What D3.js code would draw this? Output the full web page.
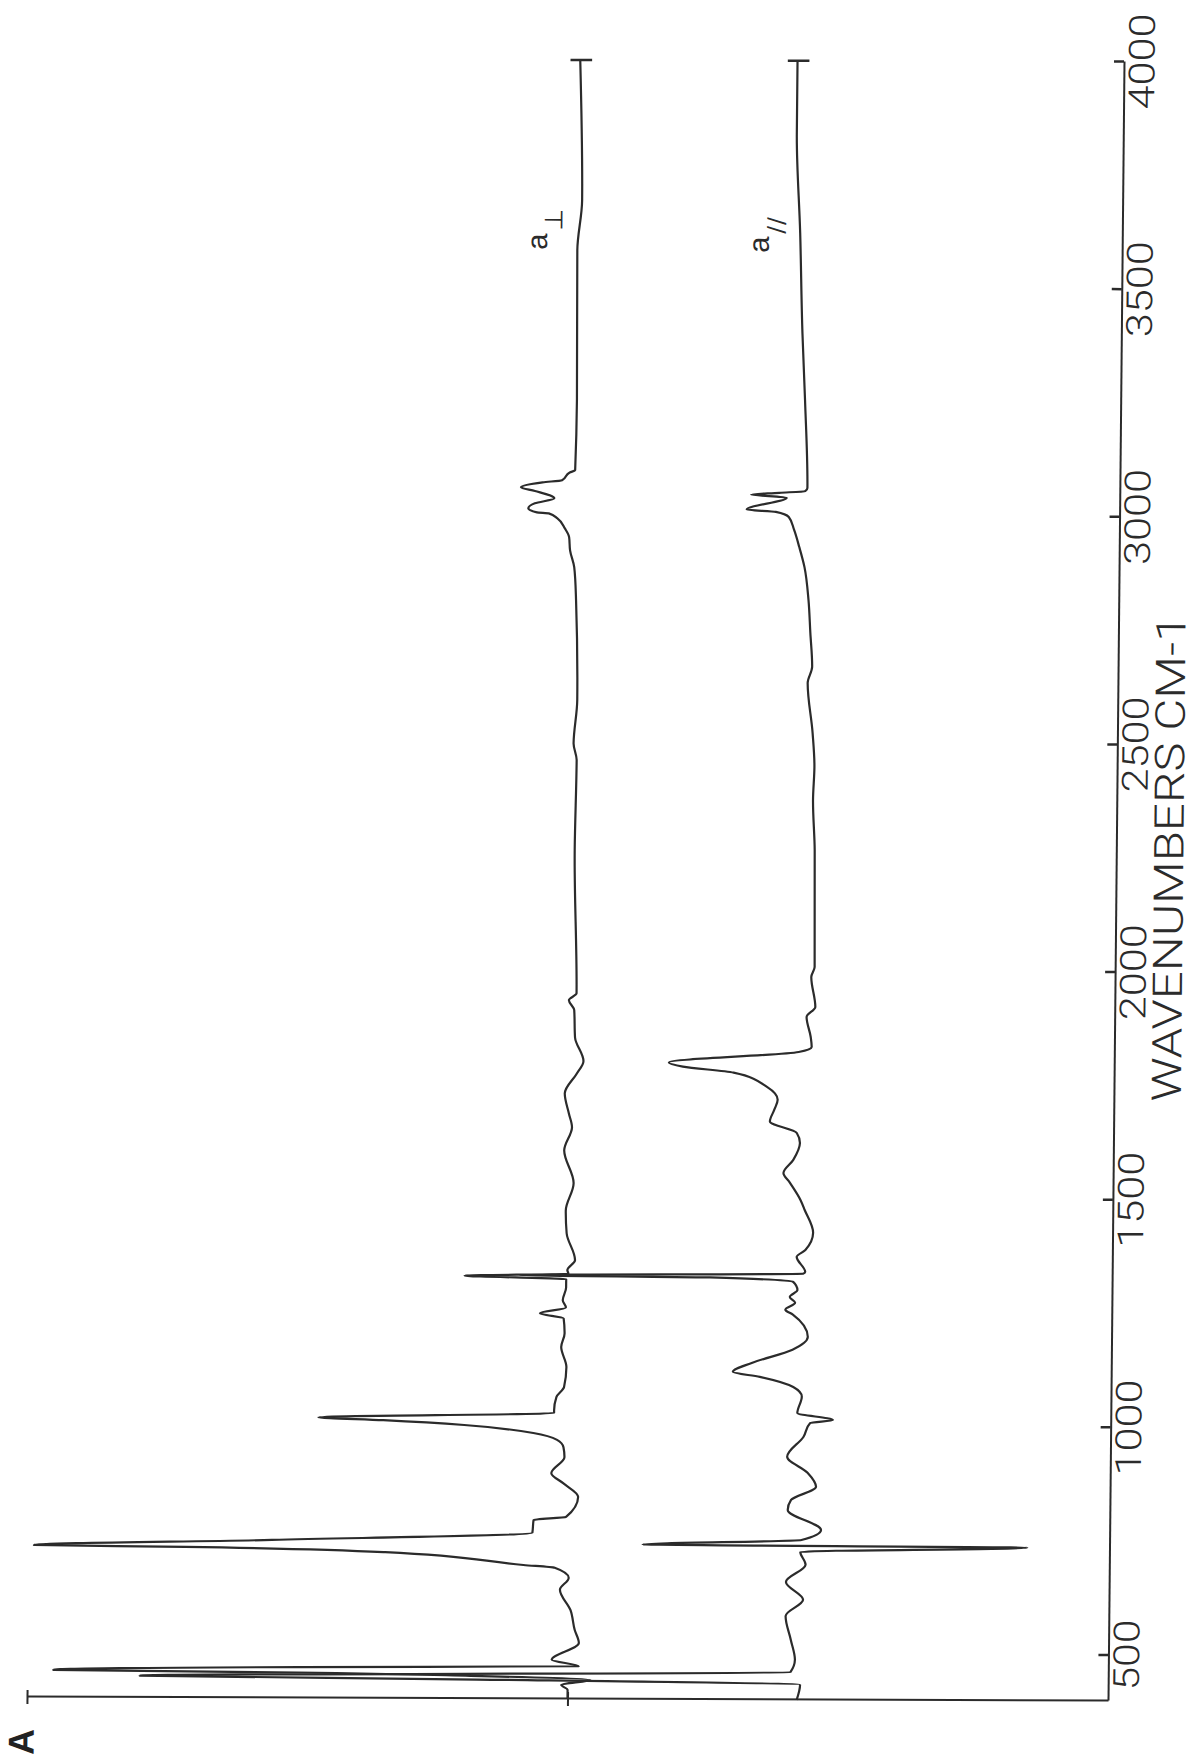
<!DOCTYPE html>
<html>
<head>
<meta charset="utf-8">
<script src="https://cdn.jsdelivr.net/npm/d3@7"></script>
<style>
  body { margin: 0; background: #fff; }
  svg { display: block; }
</style>
</head>
<body>
<script>
// tick values
var waveTicks = [500, 1000, 1500, 2000, 2500, 3000, 3500, 4000];
var absTicks = [0.5, 1.0];

// a-perpendicular spectrum, [wavenumber, absorbance]
var perpTrace = [
  [4000, 0.503], [3692, 0.500], [3582, 0.504], [3253, 0.503], [3099, 0.504],
  [3094, 0.509], [3077, 0.516], [3072, 0.534], [3061, 0.554], [3053, 0.541],
  [3037, 0.523], [3026, 0.541], [3015, 0.547], [3006, 0.539], [3004, 0.528],
  [2993, 0.520], [2971, 0.513], [2952, 0.509], [2923, 0.508], [2886, 0.504],
  [2813, 0.502], [2594, 0.500], [2499, 0.503], [2462, 0.500], [2264, 0.501],
  [1950, 0.498], [1935, 0.505], [1913, 0.500], [1853, 0.499], [1801, 0.491],
  [1774, 0.497], [1730, 0.508], [1686, 0.504], [1656, 0.501], [1605, 0.508],
  [1533, 0.499], [1473, 0.506], [1423, 0.505], [1364, 0.497], [1342, 0.504],
  [1334, 0.503], [1329, 0.599], [1322, 0.505], [1304, 0.505], [1276, 0.508],
  [1260, 0.505], [1247, 0.529], [1236, 0.507], [1203, 0.506], [1173, 0.509],
  [1129, 0.504], [1085, 0.506], [1063, 0.513], [1034, 0.515], [1028, 0.515],
  [1017, 0.733], [1011, 0.673], [1001, 0.598], [984, 0.534], [969, 0.512],
  [953, 0.506], [931, 0.505], [896, 0.517], [874, 0.506], [844, 0.492],
  [800, 0.503], [793, 0.533], [765, 0.534], [747, 0.775], [734, 0.995],
  [731, 0.855], [721, 0.670], [694, 0.542], [688, 0.513], [666, 0.500],
  [640, 0.508], [595, 0.498], [552, 0.494], [523, 0.490], [486, 0.515],
  [472, 0.490], [468, 0.748], [460, 0.976], [456, 0.750], [450, 0.590],
  [442, 0.479], [431, 0.506], [420, 0.500], [400, 0.500]
];

// a-parallel spectrum, [wavenumber, absorbance]
var paraTrace = [
  [4000, 0.302], [3842, 0.302], [3622, 0.298], [3402, 0.295], [3255, 0.292],
  [3062, 0.289], [3055, 0.291], [3051, 0.315], [3047, 0.341], [3040, 0.308],
  [3014, 0.345], [3009, 0.318], [2998, 0.306], [2970, 0.301], [2932, 0.296],
  [2888, 0.291], [2816, 0.287], [2744, 0.285], [2669, 0.283], [2634, 0.287],
  [2524, 0.282], [2449, 0.280], [2377, 0.281], [2267, 0.279], [2010, 0.278],
  [1988, 0.281], [1922, 0.277], [1900, 0.285], [1856, 0.281], [1834, 0.280],
  [1823, 0.292], [1799, 0.412], [1790, 0.399], [1777, 0.352], [1746, 0.321],
  [1718, 0.311], [1696, 0.314], [1670, 0.318], [1645, 0.293], [1623, 0.290],
  [1586, 0.296], [1557, 0.305], [1536, 0.299], [1498, 0.289], [1476, 0.285],
  [1426, 0.277], [1388, 0.284], [1373, 0.292], [1340, 0.284], [1336, 0.286],
  [1331, 0.548], [1327, 0.372], [1318, 0.295], [1300, 0.291], [1285, 0.298],
  [1272, 0.293], [1257, 0.302], [1246, 0.295], [1197, 0.281], [1169, 0.295],
  [1140, 0.332], [1120, 0.350], [1109, 0.325], [1087, 0.294], [1066, 0.286],
  [1030, 0.290], [1015, 0.257], [1008, 0.278], [978, 0.284], [934, 0.299],
  [899, 0.280], [868, 0.272], [839, 0.295], [817, 0.298], [773, 0.267],
  [751, 0.285], [740, 0.432], [736, 0.076], [725, 0.286], [697, 0.281],
  [659, 0.299], [620, 0.283], [584, 0.299], [532, 0.294], [488, 0.290],
  [461, 0.294], [448, 0.896], [442, 0.584], [433, 0.285], [400, 0.288]
];

var traces = [perpTrace, paraTrace];
var traceNames = ["a", "a"];
var traceSubs = ["\u22A5", "//"];
var labelWave = [3583, 3578];
var labelAbs = [0.532, 0.327];

var W = 1639, H = 1081;
var ink = "#2b2b2b";

var svg = d3.select("body").append("svg")
  .attr("width", 1196)
  .attr("height", 1759);

// the plot sits sideways on the scanned page, slightly skewed
var g = svg.append("g")
  .attr("transform", "matrix(0.00976,-1,1,0.0037,27,1697)");

var x = d3.scaleLinear().domain([400, 4000]).range([0, W]);
var y = d3.scaleLinear().domain([0, 1]).range([H, 0]);

// wavenumber axis
var xAxis = g.append("g")
  .attr("transform", "translate(0," + H + ")")
  .call(d3.axisBottom(x)
    .tickValues(waveTicks)
    .tickFormat(d3.format("d"))
    .tickSize(-10)
    .tickSizeOuter(0)
    .tickPadding(5));
xAxis.select(".domain").attr("stroke", ink).attr("stroke-width", 2);
xAxis.selectAll(".tick line").attr("stroke", ink).attr("stroke-width", 2.5);
xAxis.selectAll(".tick text")
  .attr("fill", ink)
  .style("font-family", "Roboto, 'DejaVu Sans', sans-serif")
  .style("font-weight", 300)
  .style("font-size", "36px")
  .attr("textLength", function(d) { return String(d).length * 25 - 4; })
  .attr("lengthAdjust", "spacingAndGlyphs");

g.append("text")
  .attr("x", x(2252))
  .attr("y", H + 67)
  .attr("text-anchor", "middle")
  .attr("fill", ink)
  .style("font-family", "Roboto, 'DejaVu Sans', sans-serif")
  .style("font-weight", 300)
  .style("font-size", "41px")
  .attr("textLength", 487)
  .attr("lengthAdjust", "spacingAndGlyphs")
  .text("WAVENUMBERS CM-1");

// absorbance axis, no labels
var yAxis = g.append("g")
  .call(d3.axisLeft(y).tickValues(absTicks).tickSize(7).tickSizeOuter(0).tickFormat(function() { return ""; }));
yAxis.select(".domain").attr("stroke", ink).attr("stroke-width", 2);
yAxis.selectAll(".tick line").attr("x2", 7).attr("x1", -7).attr("stroke", ink).attr("stroke-width", 2);

// spectra
var line = d3.line()
  .x(function(d) { return x(d[0]); })
  .y(function(d) { return y(d[1]); })
  .curve(d3.curveMonotoneX);

g.selectAll(".trace")
  .data(traces)
  .enter()
  .append("path")
    .attr("class", "trace")
    .attr("d", line)
    .attr("fill", "none")
    .attr("stroke", ink)
    .attr("stroke-width", 2.2)
    .attr("stroke-linejoin", "round");

// little end bar where each pen trace starts
g.selectAll(".cap")
  .data(traces)
  .enter()
  .append("line")
    .attr("class", "cap")
    .attr("x1", function(d) { return x(d[0][0]); })
    .attr("x2", function(d) { return x(d[0][0]); })
    .attr("y1", function(d) { return y(d[0][1] - 0.011); })
    .attr("y2", function(d) { return y(d[0][1] + 0.009); })
    .attr("stroke", ink)
    .attr("stroke-width", 2.5);

// trace names
traces.forEach(function(t, i) {
  var lab = g.append("text")
    .attr("x", x(labelWave[i]))
    .attr("y", y(labelAbs[i]))
    .attr("fill", ink)
    .style("font-family", "'Liberation Sans', Arial, sans-serif")
    .style("font-size", "29px")
    .text(traceNames[i]);
  lab.append("tspan")
    .attr("dx", 3)
    .attr("dy", 15)
    .style("font-family", "'DejaVu Sans', sans-serif")
    .style("font-size", i == 0 ? "25px" : "23px")
    .style("letter-spacing", i == 0 ? "0px" : "1px")
    .text(traceSubs[i]);
});

// panel letter
g.append("text")
  .attr("x", -45)
  .attr("y", 7)
  .attr("text-anchor", "middle")
  .attr("fill", "#222")
  .style("font-family", "'Liberation Sans', Arial, sans-serif")
  .style("font-weight", "bold")
  .style("font-size", "36px")
  .text("A");
</script>
</body>
</html>
